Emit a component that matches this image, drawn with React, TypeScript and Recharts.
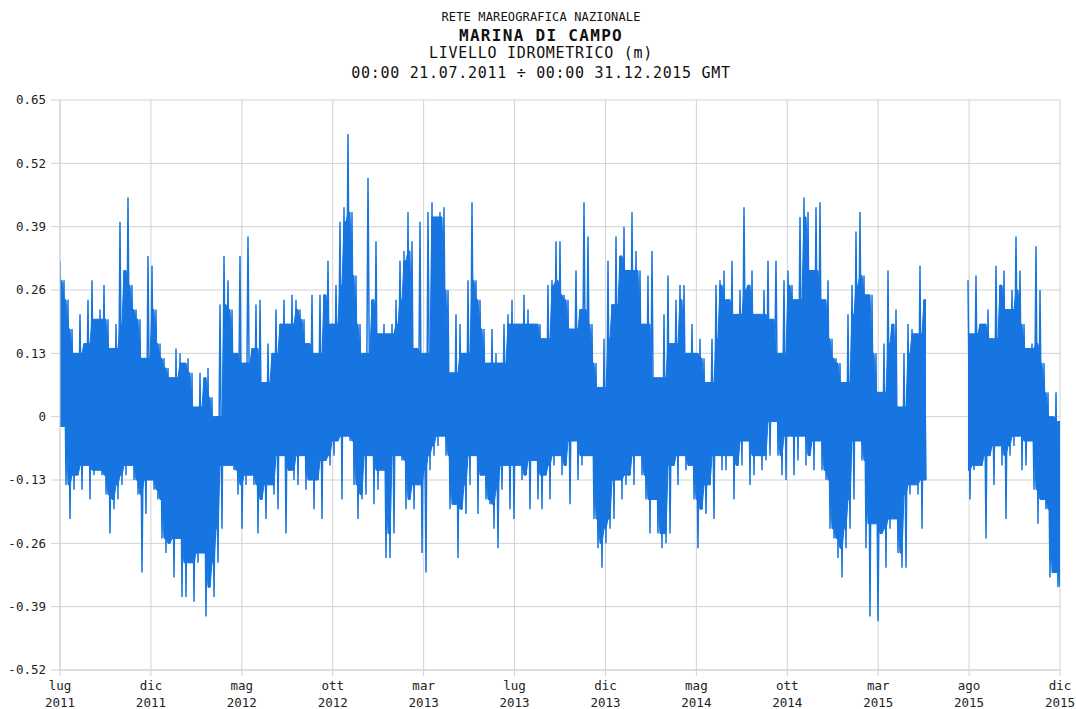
import { ComposedChart, Line, Area, XAxis, YAxis, CartesianGrid } from 'recharts';

// Sea level at Marina di Campo, 21.07.2011 -> 31.12.2015.
// One column every SPAN_DAYS / 250 days: the highest and lowest reading (cm) in it.
// null = station offline.
const HIGH_CM: (number | null)[] = [
  32, 28, 24, 18, 13, 21, 15, 24, 28, 20, 22, 27, 20, 14, 19, 40, 30, 45, 27, 22, 20, 12, 33, 31, 22, 15, 12, 10, 8, 14, 13,
  11, 12, 9, 2, 9, 8, 10, 4, 0, 23, 33, 28, 22, 13, 33, 11, 37, 14, 23, 24, 7, 15, 13, 22, 19, 24, 19, 25, 24, 22, 20,
  15, 25, 13, 25, 25, 32, 19, 27, 40, 43, 58, 42, 29, 19, 13, 49, 24, 36, 17, 19, 17, 19, 24, 32, 34, 42, 36, 14, 40, 13, 42, 44,
  41, 42, 43, 26, 9, 21, 19, 13, 28, 44, 28, 24, 18, 11, 18, 13, 11, 19, 21, 24, 19, 19, 25, 22, 19, 19, 19, 16, 27, 28, 36,
  36, 25, 24, 18, 30, 22, 44, 37, 19, 11, 6, 16, 32, 23, 37, 33, 39, 30, 42, 34, 30, 19, 29, 34, 8, 8, 21, 29, 15, 24, 27,
  27, 13, 19, 13, 16, 12, 7, 16, 27, 28, 30, 24, 32, 21, 26, 43, 27, 30, 21, 21, 26, 32, 20, 32, 13, 28, 30, 27, 24, 41, 45, 42,
  30, 43, 44, 24, 28, 16, 12, 11, 7, 21, 27, 38, 42, 29, 25, 25, 13, 5, 15, 30, 19, 22, 2, 13, 19, 18, 17, 31, 24,
  null, null, null, null, null, null, null, null, null, null,
  28, 17, 29, 19, 19, 22, 16, 31, 27, 30, 22, 26, 37, 30, 19, 14, 15, 35, 26, 11, 5, 0, 5, -1,
];

const LOW_CM: (number | null)[] = [
  -2, -14, -21, -15, -12, -15, -10, -17, -12, -11, -12, -16, -24, -19, -17, -14, -12, -10, -13, -16, -32, -20, -13, -15, -17, -25, -28, -26, -33, -25, -37,
  -37, -30, -38, -30, -28, -41, -35, -37, -30, -23, -10, -10, -11, -16, -23, -14, -12, -14, -24, -17, -21, -14, -16, -19, -8, -24, -11, -13, -14, -8, -15,
  -13, -19, -13, -21, -9, -10, -8, -5, -17, -4, -5, -14, -21, -17, -16, -8, -18, -15, -11, -29, -29, -24, -8, -9, -19, -17, -19, -14, -28, -32, -11, -8,
  -6, -4, -8, -19, -18, -29, -19, -20, -14, -8, -20, -12, -17, -18, -23, -27, -15, -10, -19, -21, -10, -13, -12, -19, -9, -17, -19, -12, -17, -10, -8,
  -12, -10, -18, -5, -13, -10, -8, -8, -21, -27, -31, -26, -23, -21, -13, -17, -14, -12, -14, -8, -12, -17, -24, -17, -24, -27, -26, -24, -10, -14, -8,
  -11, -10, -17, -27, -19, -20, -14, -21, -8, -11, -11, -8, -17, -10, -10, -5, -14, -12, -8, -11, -9, -8, -1, -8, -12, -13, -4, -12, -9, -4, -10, -8,
  -11, -5, -11, -13, -23, -25, -29, -33, -27, -23, -17, -5, -9, -27, -41, -22, -42, -24, -31, -23, -21, -28, -31, -31, -16, -14, -16, -23, -13,
  null, null, null, null, null, null, null, null, null, null,
  -17, -11, -10, -10, -25, -8, -14, -6, -10, -21, -8, -6, -4, -11, -10, -5, -15, -22, -17, -19, -33, -32, -35, -37,
];

const SPAN_DAYS = 1624;
const STEP_DAYS = SPAN_DAYS / (HIGH_CM.length - 1);

const Y_TICKS = [-0.52, -0.39, -0.26, -0.13, 0, 0.13, 0.26, 0.39, 0.52, 0.65];
const X_LABELS = [
  'lug 2011', 'dic 2011', 'mag 2012', 'ott 2012', 'mar 2013', 'lug 2013',
  'dic 2013', 'mag 2014', 'ott 2014', 'mar 2015', 'ago 2015', 'dic 2015',
];
const X_TICKS = X_LABELS.map((_, i) => (i * SPAN_DAYS) / (X_LABELS.length - 1));

const TITLE_LINES = [
  'RETE MAREOGRAFICA NAZIONALE',
  'MARINA DI CAMPO',
  'LIVELLO IDROMETRICO (m)',
  '00:00 21.07.2011 ÷ 00:00 31.12.2015 GMT',
];

// the part of the range both neighbouring columns also reach is drawn solid,
// single readings that stick out stay as spikes
const neighbours = (arr: (number | null)[], i: number) =>
  arr.slice(Math.max(0, i - 1), i + 2).filter((v): v is number => v !== null);

const series = HIGH_CM.flatMap((h, i) => {
  const lo = LOW_CM[i];
  const band =
    h === null || lo === null
      ? null
      : [Math.max(...neighbours(LOW_CM, i)) / 100, Math.min(...neighbours(HIGH_CM, i)) / 100];
  return [
    { t: i * STEP_DAYS, level: h === null ? null : h / 100, band },
    { t: i * STEP_DAYS + STEP_DAYS / 2, level: lo === null ? null : lo / 100, band },
  ];
});

const MONO = '"DejaVu Sans Mono", monospace';
const GRID = '#d2d2d2';
const BLUE = '#1775e1';

const MonthTick = (props: any) => {
  const { x, y, index } = props;
  const [month, year] = X_LABELS[index].split(' ');
  return (
    <g transform={`translate(${x},${y})`}>
      <text textAnchor="middle" fontFamily={MONO} fontSize={12.5} fill="#222">
        <tspan x={0} dy={14}>{month}</tspan>
        <tspan x={0} dy={17}>{year}</tspan>
      </text>
    </g>
  );
};

const fmtLevel = (v: number) => (v === 0 ? '0' : v.toFixed(2));

const titleStyle = (top: number, size: number, bold = false, spacing = 0) => ({
  position: 'absolute' as const,
  left: 0,
  width: 1082,
  top,
  textAlign: 'center' as const,
  fontFamily: MONO,
  fontSize: size,
  fontWeight: bold ? 700 : 400,
  letterSpacing: spacing,
  lineHeight: `${size + 2}px`,
  color: '#111',
  whiteSpace: 'pre' as const,
});

export default function App() {
  return (
    <div style={{ position: 'absolute', left: 0, top: 0, width: 1076, height: 709, background: '#fff' }}>
      <div style={titleStyle(10, 12, false, 0.15)}>{TITLE_LINES[0]}</div>
      <div style={titleStyle(27, 16, true, 1.3)}>{TITLE_LINES[1]}</div>
      <div style={titleStyle(45, 15, false, 0.7)}>{TITLE_LINES[2]}</div>
      <div style={titleStyle(65, 15, false, 0.7)}>{TITLE_LINES[3]}</div>
      <ComposedChart
        width={1076}
        height={709}
        data={series}
        margin={{ top: 100, right: 16, bottom: 0, left: 10 }}
      >
        <CartesianGrid stroke={GRID} />
        <XAxis
          dataKey="t"
          type="number"
          domain={[0, SPAN_DAYS]}
          ticks={X_TICKS}
          interval={0}
          allowDataOverflow
          height={39}
          tickSize={6}
          tickMargin={0}
          tick={<MonthTick />}
          axisLine={{ stroke: GRID }}
          tickLine={{ stroke: GRID }}
        />
        <YAxis
          type="number"
          domain={[-0.52, 0.65]}
          ticks={Y_TICKS}
          interval={0}
          width={50}
          tickSize={9}
          tickMargin={5}
          tickFormatter={fmtLevel}
          tick={{ fontFamily: MONO, fontSize: 12.5, fill: '#222' }}
          axisLine={{ stroke: GRID }}
          tickLine={{ stroke: GRID }}
        />
        <Area
          type="linear"
          dataKey="band"
          stroke={BLUE}
          strokeWidth={1}
          fill={BLUE}
          fillOpacity={1}
          dot={false}
          activeDot={false}
          isAnimationActive={false}
        />
        <Line
          type="linear"
          dataKey="level"
          stroke={BLUE}
          strokeWidth={1.5}
          strokeLinejoin="bevel"
          dot={false}
          activeDot={false}
          isAnimationActive={false}
        />
      </ComposedChart>
    </div>
  );
}
